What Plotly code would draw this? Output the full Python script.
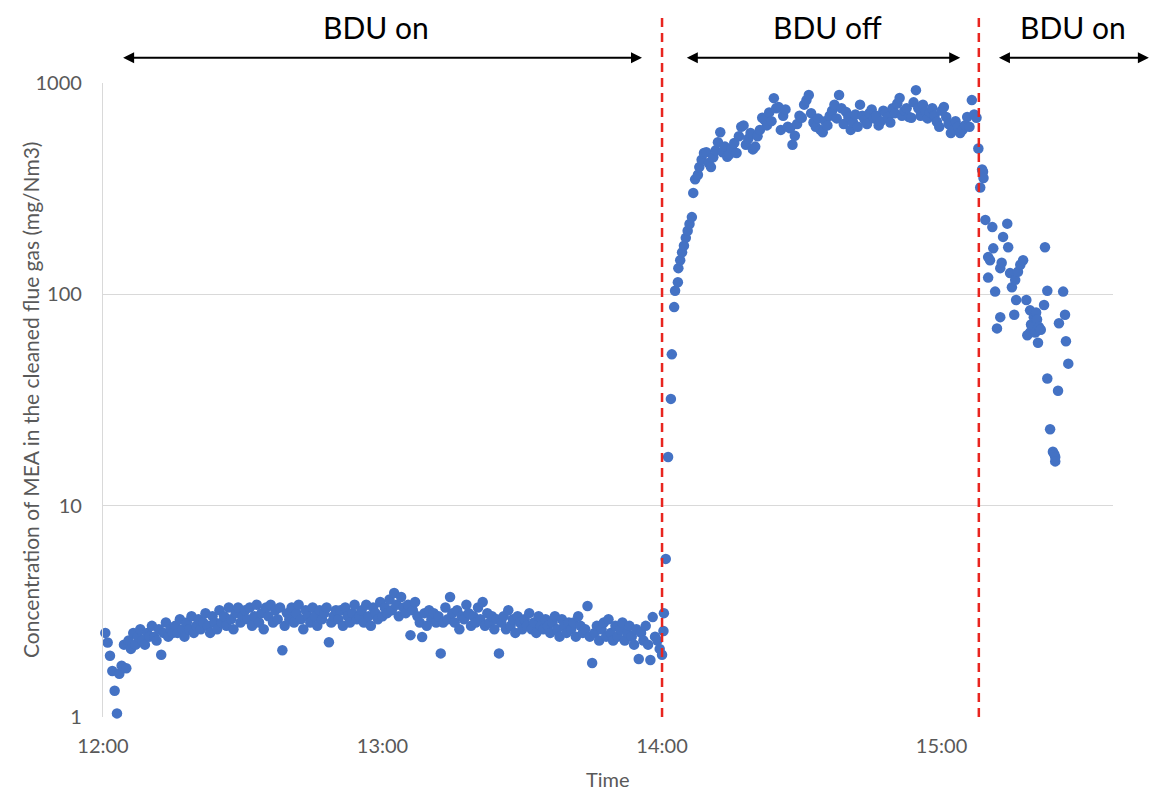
import plotly.graph_objects as go

# Minutes after 12:00 at which the BDU was switched off and back on
bdu_off_min = 120
bdu_on_min = 188

# Phase 1 (BDU on): one reading every 30 s from 12:00:30 to 14:00
phase1_mea = [
    2.5, 2.25, 1.95, 1.65, 1.33, 1.04, 1.6, 1.75, 2.2, 1.7,
    2.3, 2.1, 2.5, 2.2, 2.4, 2.6, 2.3, 2.2, 2.5, 2.4,
    2.7, 2.4, 2.3, 2.6, 1.97, 2.5, 2.8, 2.4, 2.6, 2.5,
    2.7, 2.5, 2.9, 2.6, 2.4, 2.8, 2.6, 3.0, 2.5, 2.7,
    2.9, 2.6, 2.8, 3.1, 2.7, 2.5, 3.0, 2.8, 2.6, 3.2,
    2.8, 3.0, 2.7, 3.3, 2.9, 2.6, 3.1, 3.3, 2.8, 3.0,
    3.2, 2.9, 3.3, 2.7, 3.0, 3.4, 2.8, 3.1, 2.6, 3.3,
    3.0, 3.4, 2.8, 3.2, 2.9, 3.3, 2.07, 2.7, 3.1, 2.9,
    3.3, 2.8, 3.1, 3.4, 2.9, 2.6, 3.2, 3.0, 2.8, 3.3,
    3.0, 2.7, 3.2, 2.9, 3.1, 3.3, 2.26, 2.8, 3.0, 3.2,
    2.9, 3.2, 2.7, 3.3, 3.0, 2.8, 3.1, 3.4, 2.9, 3.0,
    3.2, 2.8, 3.4, 3.0, 2.7, 3.3, 3.1, 2.9, 3.5, 3.0,
    3.3, 3.1, 3.6, 3.2, 3.86, 3.4, 3.0, 3.7, 3.3, 3.1,
    3.4, 2.44, 3.2, 3.5, 3.0, 2.8, 2.39, 3.1, 2.7, 3.2,
    2.9, 3.1, 2.8, 3.0, 2.0, 2.8, 3.3, 2.9, 3.7, 3.1,
    2.8, 3.2, 2.6, 3.0, 2.9, 3.4, 3.1, 2.7, 3.0, 2.8,
    3.3, 2.9, 3.5, 2.7, 3.1, 2.8, 3.0, 2.6, 2.9, 2.0,
    2.8, 3.0, 2.6, 3.2, 2.7, 2.9, 2.5, 3.0, 2.8, 2.6,
    2.9, 2.7, 3.1, 2.6, 2.8, 2.5, 3.0, 2.7, 2.6, 2.9,
    2.7, 2.5, 2.8, 3.0, 2.6, 2.4, 2.9, 2.7, 2.5, 2.8,
    2.6, 2.8, 2.4, 3.0, 2.7, 2.5, 2.6, 3.35, 2.4, 1.8,
    2.5, 2.7, 2.3, 2.6, 2.8, 2.4, 2.9, 2.5, 2.3, 2.7,
    2.4, 2.6, 2.8, 2.3, 2.5, 2.7, 2.4, 2.2, 2.6, 1.88,
    2.5, 2.3, 2.7, 2.2, 1.86, 2.97, 2.4, 2.3, 2.1, 1.97,
]
phase1_min = [0.5 * (i + 1) for i in range(len(phase1_mea))]

# Breakthrough right after the BDU was switched off
rise_min = [120.3, 120.4, 120.8, 121.3, 121.9, 122.1, 122.6, 122.8, 123.4, 123.5,
            123.9, 124.3, 124.7, 125.1, 125.5, 125.9, 126.4, 126.7, 127.1, 127.7]
rise_mea = [2.55, 3.1, 5.6, 17, 32, 52, 87, 104, 114, 133,
            145, 158, 170, 185, 200, 215, 232, 302, 350, 368]

# Phase 2 (BDU off): one reading every 30 s from 14:08 to 15:07:30
plateau_mea = [
    400, 433, 466, 470, 418, 400, 445, 480, 525, 585,
    470, 500, 448, 460, 490, 520, 466, 560, 621, 630,
    510, 545, 580, 485, 500, 560, 600, 685, 670, 630,
    726, 660, 848, 760, 770, 600, 700, 750, 621, 610,
    510, 563, 640, 700, 685, 790, 830, 877, 720, 650,
    620, 680, 600, 585, 660, 630, 700, 740, 790, 680,
    877, 760, 640, 730, 690, 600, 650, 710, 620, 790,
    700, 670, 640, 720, 750, 680, 700, 630, 660, 740,
    726, 690, 650, 760, 720, 800, 850, 700, 740, 760,
    690, 685, 810, 925, 760, 700, 790, 730, 680, 726,
    760, 700, 655, 620, 740, 770, 690, 640, 580, 600,
    660, 620, 580, 600, 630, 690, 620, 830, 710, 685,
]
plateau_min = [128 + 0.5 * i for i in range(len(plateau_mea))]

# Phase 3 (BDU on again): decay of the emission
decay_min = [187.9, 188.3, 188.7, 188.9, 189.0, 189.4, 190.0, 190.0, 190.4, 190.9,
             191.1, 191.5, 191.9, 192.6, 192.6, 192.9, 193.2, 194.1, 194.3, 194.7,
             195.1, 195.6, 195.8, 196.0, 196.4, 196.9, 197.5, 198.2, 198.4, 199.0,
             199.0, 199.6, 199.2, 199.8, 200.1, 200.3, 200.5, 200.7, 200.9, 201.3,
             202.0, 202.2, 202.7, 202.7, 203.3, 203.9, 204.2, 204.4, 204.4, 205.0,
             205.2, 206.1, 206.5, 206.7, 207.2]
decay_mea = [490, 320, 390, 380, 355, 225, 120, 150, 145, 208,
             165, 103, 69, 133, 78, 141, 187, 216, 167, 126,
             108, 80, 117, 94, 128, 138, 145, 94, 64, 84,
             66, 70, 72, 78, 66, 82, 76, 59, 70, 68,
             89, 167, 104, 40, 23, 18, 17.5, 17, 16.2, 35,
             73, 103, 80, 60, 47]

time_min = phase1_min + rise_min + plateau_min + decay_min
mea = phase1_mea + rise_mea + plateau_mea + decay_mea

tick_min = [0, 60, 120, 180]
tick_text = ["12:00", "13:00", "14:00", "15:00"]

# (label, arrow start, arrow end, label centre) in minutes after 12:00
phases = [
    ("BDU on", 4, bdu_off_min - 4.3, 58.5),
    ("BDU off", bdu_off_min + 5, bdu_on_min - 4, 155.5),
    ("BDU on", bdu_on_min + 4, 224.5, 208.2),
]

FONT = "Lato, 'Open Sans', sans-serif"
GREY = "#595959"
X_RANGE = [0, 216.8]

fig = go.Figure()
fig.add_trace(go.Scatter(
    x=time_min, y=mea, mode="markers",
    marker=dict(color="#4472C4", size=10.5, line=dict(width=0)),
    cliponaxis=False, showlegend=False,
))

for t in (bdu_off_min, bdu_on_min):
    fig.add_shape(type="line", xref="x", yref="paper",
                  x0=t, x1=t, y0=0, y1=1.108,
                  line=dict(color="#E8251F", width=2.5, dash="9px,6px"))

for label, start, end, centre in phases:
    fig.add_annotation(x=end, y=1.04, xref="x", yref="paper",
                       ax=start, ay=0, axref="x", ayref="pixel",
                       showarrow=True, arrowhead=2, startarrowhead=2,
                       arrowside="end+start", arrowsize=1.1, startarrowsize=1.1,
                       arrowwidth=2, arrowcolor="#000000", text="")
    fig.add_annotation(x=centre, y=1.088, xref="x", yref="paper",
                       text=label, showarrow=False, yanchor="middle",
                       font=dict(family=FONT, size=30, color="#000000"))

# Axis titles
fig.add_annotation(x=-0.0723, y=0.5, xref="paper", yref="paper",
                   text="Concentration of MEA in the cleaned flue gas (mg/Nm3)",
                   textangle=-90, showarrow=False, xanchor="center", yanchor="middle",
                   font=dict(family=FONT, size=21, color=GREY))
fig.add_annotation(x=0.5, y=-0.0975, xref="paper", yref="paper",
                   text="Time", showarrow=False, xanchor="center", yanchor="middle",
                   font=dict(family=FONT, size=20, color=GREY))

fig.update_layout(
    width=1151, height=792,
    margin=dict(l=103, r=38, t=83, b=75),
    paper_bgcolor="white", plot_bgcolor="white",
    font=dict(family=FONT, color=GREY),
    xaxis=dict(range=X_RANGE, tickvals=tick_min, ticktext=tick_text,
               showgrid=False, zeroline=False, showline=False,
               ticks="", tickfont=dict(size=20, color=GREY),
               ticklabelstandoff=15),
    yaxis=dict(type="log", range=[0, 3], tickvals=[1, 10, 100, 1000],
               ticktext=["1", "10", "100", "1000"],
               showgrid=True, gridcolor="#D9D9D9", gridwidth=1.3,
               showline=True, linecolor="#D9D9D9", linewidth=1.3,
               zeroline=False, ticks="", tickfont=dict(size=20, color=GREY),
               ticklabelstandoff=16),
)

fig.write_html("out.html")
